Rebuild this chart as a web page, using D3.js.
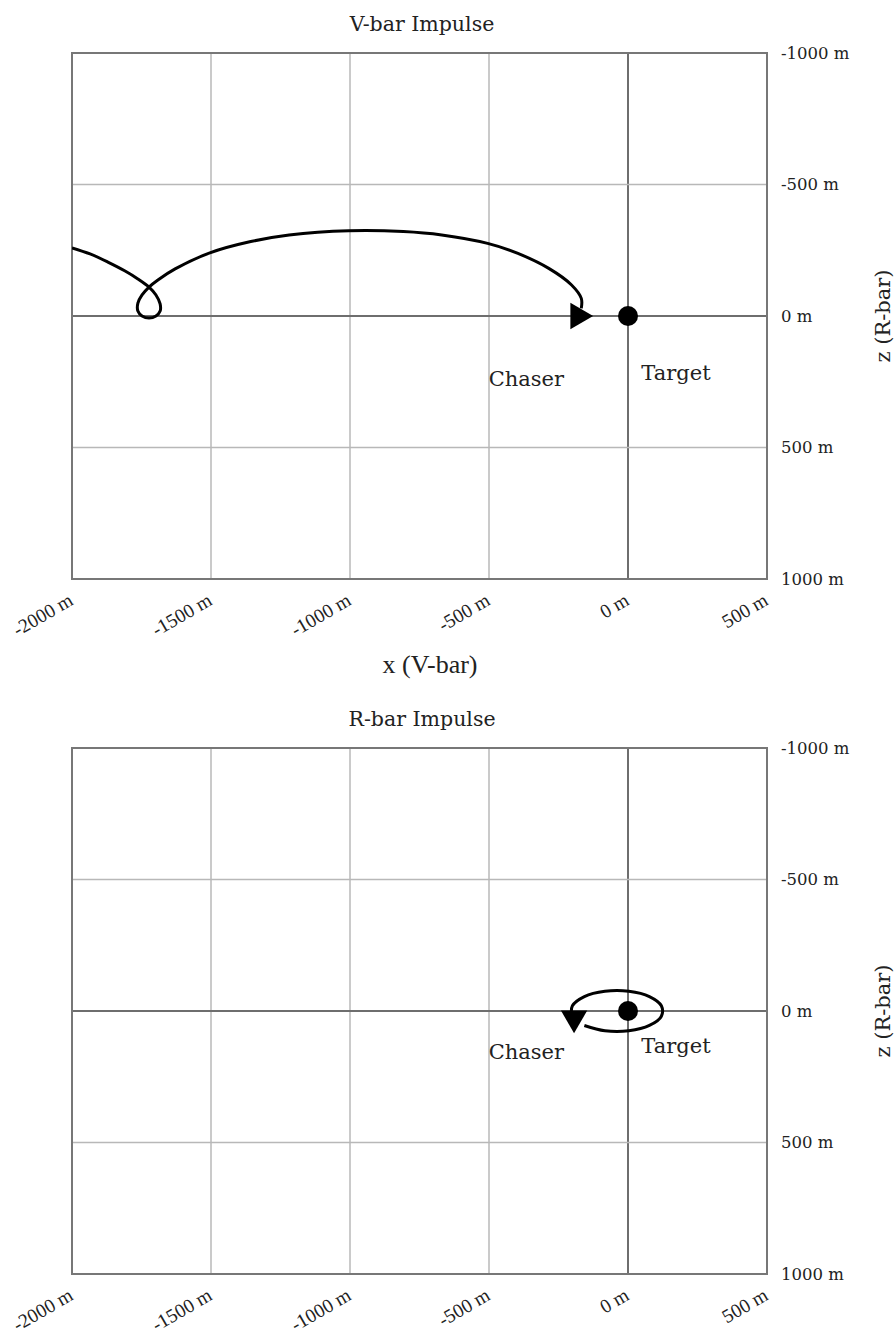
<!DOCTYPE html>
<html>
<head>
<meta charset="utf-8">
<script src="https://cdn.jsdelivr.net/npm/d3@7"></script>
<style>
  html, body { margin: 0; padding: 0; background: #fff; }
  svg { display: block; font-family: "DejaVu Serif", "Liberation Serif", serif; }
</style>
</head>
<body>
<svg id="chart" width="896" height="1337"></svg>
<script>
// ----- data (metres) -----
const X_TICKS = [-2000, -1500, -1000, -500, 0, 500];
const Z_TICKS = [-1000, -500, 0, 500, 1000];
const X_DOMAIN = [-2000, 500];
const Z_DOMAIN = [-1000, 1000];

// V-bar impulse trajectory (x, z)
const VBAR_X = [-2000, -1935, -1871, -1809, -1763, -1723, -1698, -1683, -1683, -1698, -1723, -1748, -1763,
  -1763, -1748, -1723, -1691, -1629, -1504, -1357, -1219, -1004, -808, -670, -505, -396, -285, -203, -168, -168];
const VBAR_Z = [-259, -236, -205, -171, -141, -110, -80, -46, -19, 0, 8, 0, -19,
  -49, -80, -110, -137, -179, -240, -283, -308, -324, -321, -308, -276, -238, -181, -118, -67, -29];

// R-bar impulse trajectory (x, z)
const RBAR_X = [-157, -83, 3, 77, 120, 120, 77, 3, -83, -157, -200, -203];
const RBAR_Z = [55, 75, 75, 55, 20, -20, -55, -75, -75, -55, -20, 14];

// arrow heads: x, z, rotation (deg)
const VBAR_ARROW = [-180, 0, 90];
const RBAR_ARROW = [-194, 27, 180];

const TARGET = [0, 0];

// ----- helpers -----
const svg = d3.select('#chart');
const fmt = d => `${d} m`;

function drawPanel(top, title, xs, zs, arrow, xTitle, labelDrop) {
  const x = d3.scaleLinear().domain(X_DOMAIN).range([72, 767]);
  const y = d3.scaleLinear().domain(Z_DOMAIN).range([top, top + 526]);
  const g = svg.append('g');

  // grid
  g.selectAll('line.vx').data(X_TICKS).join('line')
    .attr('x1', d => x(d)).attr('x2', d => x(d))
    .attr('y1', y(-1000)).attr('y2', y(1000))
    .attr('stroke', d => d === 0 ? '#6e6e6e' : '#b8b8b8')
    .attr('stroke-width', d => d === 0 ? 2 : 1.5);
  g.selectAll('line.hz').data(Z_TICKS).join('line')
    .attr('x1', x(-2000)).attr('x2', x(500))
    .attr('y1', d => y(d)).attr('y2', d => y(d))
    .attr('stroke', d => d === 0 ? '#6e6e6e' : '#b8b8b8')
    .attr('stroke-width', d => d === 0 ? 2 : 1.5);

  // frame
  g.append('rect')
    .attr('x', x(-2000)).attr('y', y(-1000))
    .attr('width', x(500) - x(-2000)).attr('height', y(1000) - y(-1000))
    .attr('fill', 'none').attr('stroke', '#777').attr('stroke-width', 2);

  // right axis labels
  const ax = g.append('g')
    .attr('transform', `translate(${x(500) + 6},0)`)
    .call(d3.axisRight(y).tickValues(Z_TICKS).tickSize(0).tickPadding(8).tickFormat(fmt));
  ax.select('.domain').remove();
  ax.selectAll('text').attr('font-size', 16.5).attr('fill', '#222')
    .attr('font-family', '"DejaVu Serif", serif');

  // bottom axis labels, rotated
  const bx = g.append('g')
    .attr('transform', `translate(0,${y(1000)})`)
    .call(d3.axisBottom(x).tickValues(X_TICKS).tickSize(0).tickFormat(fmt));
  bx.select('.domain').remove();
  bx.selectAll('text')
    .attr('font-size', 19.5).attr('fill', '#222')
    .attr('font-family', '"Liberation Serif", serif')
    .attr('text-anchor', 'end')
    .attr('dy', null).attr('y', 0)
    .attr('transform', 'translate(2,25) rotate(-30)');

  // title
  g.append('text').attr('x', 422).attr('y', top - 22)
    .attr('text-anchor', 'middle').attr('font-size', 20.5).attr('fill', '#222')
    .text(title);

  // z axis title
  g.append('text')
    .attr('transform', `translate(883,${y(0)}) rotate(-90)`)
    .attr('text-anchor', 'middle').attr('dy', '0.35em')
    .attr('font-size', 21).attr('fill', '#222')
    .text('z (R-bar)');

  if (xTitle) {
    g.append('text').attr('x', 430).attr('y', y(1000) + 94)
      .attr('text-anchor', 'middle').attr('font-size', 26).attr('fill', '#222')
      .attr('font-family', '"Liberation Serif", serif')
      .text(xTitle);
  }

  // trajectory
  const pts = xs.map((v, i) => [v, zs[i]]);
  const line = d3.line().x(d => x(d[0])).y(d => y(d[1])).curve(d3.curveCatmullRom.alpha(0.5));
  const clipId = 'clip' + top;
  g.append('clipPath').attr('id', clipId).append('rect')
    .attr('x', x(-2000)).attr('y', y(-1000))
    .attr('width', x(500) - x(-2000)).attr('height', y(1000) - y(-1000));
  g.append('path').datum(pts)
    .attr('clip-path', `url(#${clipId})`)
    .attr('d', line).attr('fill', 'none')
    .attr('stroke', '#000').attr('stroke-width', 3);

  // arrow head
  g.append('path')
    .attr('d', d3.symbol(d3.symbolTriangle, 300)())
    .attr('transform', `translate(${x(arrow[0])},${y(arrow[1])}) rotate(${arrow[2]})`)
    .attr('fill', '#000');

  // target
  g.append('circle').attr('cx', x(TARGET[0])).attr('cy', y(TARGET[1])).attr('r', 10).attr('fill', '#000');

  // labels (the top panel has them a little lower)
  g.append('text').attr('x', x(-230)).attr('y', y(0) + 48 + labelDrop)
    .attr('text-anchor', 'end').attr('font-size', 21).attr('fill', '#222').text('Chaser');
  g.append('text').attr('x', x(48)).attr('y', y(0) + 42 + labelDrop)
    .attr('font-size', 21).attr('fill', '#222').text('Target');
}

svg.append('rect').attr('width', 896).attr('height', 1337).attr('fill', '#fff');
drawPanel(53, 'V-bar Impulse', VBAR_X, VBAR_Z, VBAR_ARROW, 'x (V-bar)', 22);
drawPanel(748, 'R-bar Impulse', RBAR_X, RBAR_Z, RBAR_ARROW, null, 0);
</script>
</body>
</html>
